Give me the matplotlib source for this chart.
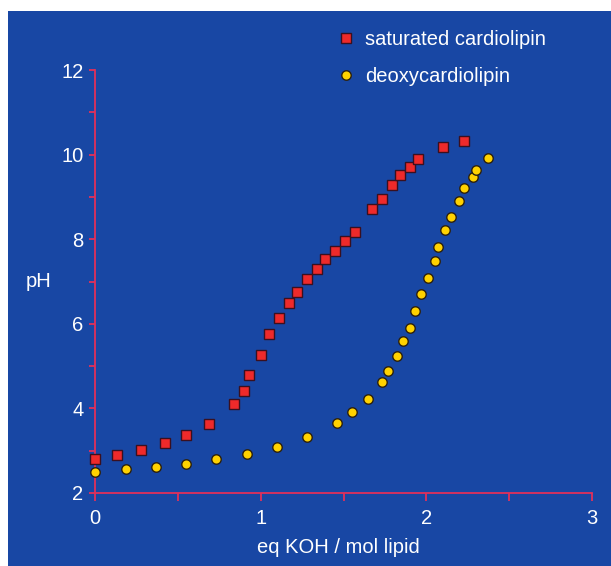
import matplotlib.pyplot as plt
from matplotlib.patches import Rectangle
from matplotlib.ticker import MultipleLocator

plt.rcParams['font.family'] = ['Liberation Sans', 'DejaVu Sans']

# titration curves
sat_x = [0, 0.13, 0.28, 0.42, 0.55, 0.69, 0.84, 0.90, 0.93, 1.00, 1.05, 1.11, 1.17, 1.22,
         1.28, 1.34, 1.39, 1.45, 1.51, 1.57, 1.67, 1.73, 1.79, 1.84, 1.90, 1.95, 2.10, 2.23]
sat_ph = [2.81, 2.91, 3.02, 3.19, 3.37, 3.62, 4.10, 4.42, 4.78, 5.26, 5.76, 6.14, 6.48, 6.74,
          7.06, 7.30, 7.53, 7.72, 7.95, 8.18, 8.71, 8.96, 9.27, 9.52, 9.71, 9.90, 10.17, 10.33]

deoxy_x = [0, 0.19, 0.37, 0.55, 0.73, 0.92, 1.10, 1.28, 1.46, 1.55, 1.65, 1.73, 1.77, 1.82,
           1.86, 1.90, 1.93, 1.97, 2.01, 2.05, 2.07, 2.11, 2.15, 2.20, 2.23, 2.28, 2.30, 2.37]
deoxy_ph = [2.50, 2.57, 2.61, 2.68, 2.80, 2.93, 3.08, 3.33, 3.65, 3.91, 4.23, 4.63, 4.88, 5.24,
            5.59, 5.91, 6.30, 6.70, 7.09, 7.49, 7.81, 8.21, 8.52, 8.90, 9.20, 9.47, 9.64, 9.93]

blue = '#1847a4'
axcol = '#e0305a'

fig = plt.figure(figsize=(6.11, 5.66), dpi=100)
fig.patches.append(Rectangle((8/611, 0), 1 - 8/611, 1 - 11/566, transform=fig.transFigure,
                             facecolor=blue, edgecolor='none', zorder=-10))

ax = fig.add_axes([95/611, 1 - 493/566, 497/611, 423/566])
ax.patch.set_alpha(0)

ax.plot(sat_x, sat_ph, 's', color='#ee2a2a', mec='#3a1020', mew=1.0, ms=6.5,
        clip_on=False, zorder=3, label='saturated cardiolipin')
ax.plot(deoxy_x, deoxy_ph, 'o', color='#ffd200', mec='#2a2010', mew=1.0, ms=6.8,
        clip_on=False, zorder=3, label='deoxycardiolipin')

ax.set_xlim(0, 3)
ax.set_ylim(2, 12)
ax.xaxis.set_major_locator(MultipleLocator(1))
ax.xaxis.set_minor_locator(MultipleLocator(0.5))
ax.yaxis.set_major_locator(MultipleLocator(2))
ax.yaxis.set_minor_locator(MultipleLocator(1))

for s in ['top', 'right']:
    ax.spines[s].set_visible(False)
for s in ['left', 'bottom']:
    ax.spines[s].set_color(axcol)
    ax.spines[s].set_linewidth(1.3)

ax.tick_params(axis='x', which='both', length=5.6, width=1.3, color=axcol, direction='out')
ax.tick_params(axis='y', which='both', length=4.2, width=1.3, color=axcol, direction='out')
ax.tick_params(axis='x', which='major', labelsize=14.5, labelcolor='white', pad=6)
ax.tick_params(axis='y', which='major', labelsize=14.5, labelcolor='white', pad=4)

ax.set_xlabel('eq KOH / mol lipid', fontsize=14.5, color='white', va='center')
ax.xaxis.set_label_coords(0.49, -0.13)
ax.set_ylabel('pH', fontsize=14.5, color='white', rotation=0, ha='center', va='center')
ax.yaxis.set_label_coords(-0.113, 0.5)

leg = ax.legend(loc='center left', bbox_to_anchor=(326/611, 1 - 58/566),
                bbox_transform=fig.transFigure, frameon=False, fontsize=14.5,
                handlelength=1.0, handletextpad=0.45, labelspacing=0.85, borderpad=0)
for t in leg.get_texts():
    t.set_color('white')

fig.savefig('out.png', dpi=100)
